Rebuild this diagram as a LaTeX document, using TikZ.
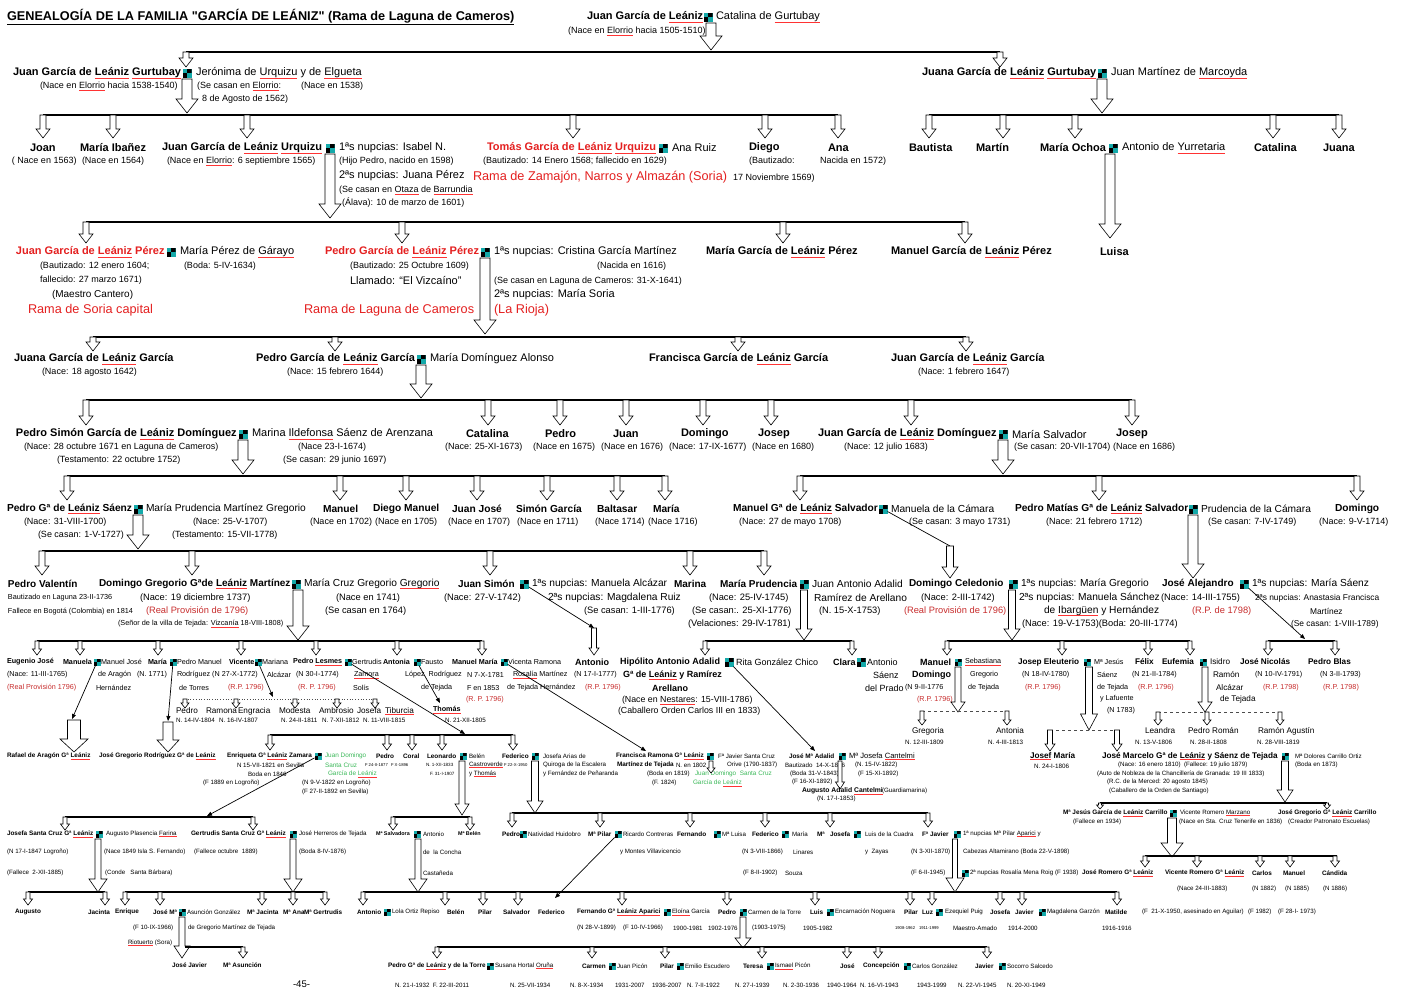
\documentclass[tikz,border=0pt]{standalone}
\usepackage{fontspec}
\setmainfont{Liberation Sans}[Ligatures=TeXOff]
\usetikzlibrary{arrows.meta}
\definecolor{mteal}{RGB}{20,170,170}
\definecolor{redA}{RGB}{228,32,32}
\definecolor{redB}{RGB}{200,45,45}
\definecolor{greenA}{RGB}{60,185,90}
\newcounter{gtn}
\newcommand\gW[1]{\leavevmode\sbox0{#1}\rlap{\color{red!80}\rule[-0.2em]{\wd0}{0.4pt}}\usebox0}
\newcommand\gL{\gW{Leániz}}
\newcommand\gT[4][]{\stepcounter{gtn}\node[gtx,#1] (t\arabic{gtn}) at (#2,#3) {#4};}
\newcommand\gM[3]{\node[gmk] (#1) at (#2,#3) {};}
\newcommand\gMs[3]{\node[gmk,minimum size=7pt] (#1) at (#2,#3) {};}
\newcommand\gHA[6]{\draw[gha] ({#1-#4/2},#2) -- ({#1-#4/2},{#3-#6}) -- ({#1-#5/2},{#3-#6}) -- (#1,#3) -- ({#1+#5/2},{#3-#6}) -- ({#1+#4/2},{#3-#6}) -- ({#1+#4/2},#2) -- cycle;}
\newcommand\gSA[3]{\gHA{#1}{#2}{#3}{6}{14}{9}}
\newcommand\gBA[3]{\gHA{#1}{#2}{#3}{10}{22}{14}}
\newcommand\gSAs[3]{\gHA{#1}{#2}{#3}{4}{9}{6}}
\newcommand\gSAt[3]{\gHA{#1}{#2}{#3}{4}{8}{5}}
\newcommand\gBAk[3]{\gHA{#1}{#2}{#3}{6}{18}{13}}
\newcommand\gBAm[3]{\gHA{#1}{#2}{#3}{7}{16}{11}}
\begin{document}
\begin{tikzpicture}[x=1pt,y=-1pt,
 gtx/.style={anchor=west,inner sep=0pt,outer sep=0pt},
 gmk/.style={inner sep=0pt,outer sep=0pt,minimum size=9pt,fill=mteal,
   path picture={\fill[black] (path picture bounding box.center) rectangle (path picture bounding box.north east);
                 \fill[black] (path picture bounding box.center) rectangle (path picture bounding box.south west);}},
 gha/.style={draw=black,fill=white,line width=0.6pt,line join=miter},
 gbar/.style={draw=black,line width=1.4pt},
 gdsh/.style={draw=black!70,line width=0.6pt,dashed},
 gdot/.style={draw=black!70,line width=0.7pt,dotted},
 gptr/.style={draw=black,line width=0.7pt,-{Triangle[length=5pt,width=4pt]}},
 gln/.style={draw=black,line width=0.7pt},
 ti/.style={font=\fontsize{12.7}{14}\selectfont\bfseries},
 nA/.style={font=\fontsize{11}{13}\selectfont\bfseries},
 sA/.style={font=\fontsize{11}{13}\selectfont},
 iA/.style={font=\fontsize{9}{10.5}\selectfont},
 sB/.style={font=\fontsize{10}{12}\selectfont},
 rL/.style={font=\fontsize{12.7}{14}\selectfont,text=redA},
 nG/.style={font=\fontsize{10.2}{12}\selectfont\bfseries},
 sG/.style={font=\fontsize{10.2}{12}\selectfont},
 nH/.style={font=\fontsize{10}{12}\selectfont\bfseries},
 sH/.style={font=\fontsize{10.2}{12}\selectfont},
 iH/.style={font=\fontsize{9.3}{11}\selectfont},
 iH8/.style={font=\fontsize{8.4}{10}\selectfont},
 rH/.style={font=\fontsize{9.3}{11}\selectfont,text=redB},
 tH/.style={font=\fontsize{7.3}{8.5}\selectfont},
 nI/.style={font=\fontsize{7.2}{8.5}\selectfont\bfseries},
 iI/.style={font=\fontsize{7.2}{8.5}\selectfont},
 rI/.style={font=\fontsize{7.2}{8.5}\selectfont,text=redB},
 nJ/.style={font=\fontsize{9}{10.5}\selectfont\bfseries},
 sJ/.style={font=\fontsize{9}{10.5}\selectfont},
 iJ/.style={font=\fontsize{8.8}{10}\selectfont},
 nK/.style={font=\fontsize{8.2}{9.5}\selectfont\bfseries},
 sK/.style={font=\fontsize{8.2}{9.5}\selectfont},
 dK/.style={font=\fontsize{6.3}{7.5}\selectfont},
 nD/.style={font=\fontsize{6.4}{7.5}\selectfont\bfseries},
 nDs/.style={font=\fontsize{5.4}{6.5}\selectfont\bfseries},
 iD/.style={font=\fontsize{6.2}{7.2}\selectfont},
 iDs/.style={font=\fontsize{4.6}{5.5}\selectfont},
 gD/.style={font=\fontsize{6.4}{7.5}\selectfont,text=greenA},
 tD/.style={font=\fontsize{4.2}{5}\selectfont},
 pg/.style={font=\fontsize{9.6}{11}\selectfont}]
\fill[white] (0,0) rectangle (1407,988);
\useasboundingbox (0,0) rectangle (1407,988);

% ---------- TIER A ----------
\gT[ti]{7}{17}{\underline{GENEALOGÍA DE LA FAMILIA "GARCÍA DE LEÁNIZ" (Rama de Laguna de Cameros)}}
\gT[nA]{587}{17}{Juan García de \gL}
\gM{mA}{708}{17}
\gT[sA]{716}{17}{Catalina de \gW{Gurtubay}}
\gT[iA]{568}{31}{(Nace en \gW{Elorrio} hacia 1505-1510)}
\gBA{711}{23}{50}
\draw[gbar] (186,52) -- (1000,52);
\gSA{186}{52}{67}\gSA{1000}{52}{67}

% ---------- TIER B ----------
\gT[nA]{13}{73}{Juan García de \gL\ \gW{Gurtubay}}
\gM{mB1}{187}{73}
\gT[sA]{196}{73}{Jerónima de \gW{Urquizu} y de \gW{Elgueta}}
\gT[iA]{40}{86}{(Nace en \gW{Elorrio} hacia 1538-1540)}
\gT[iA]{197}{86}{(Se casan en \gW{Elorrio}:}
\gT[iA]{301}{86}{(Nace en 1538)}
\gT[iA]{202}{99}{8 de Agosto de 1562)}
\gBA{187}{79}{113}
\draw[gbar] (43,115) -- (838,115);
\foreach \xx in {43,113,247,573,765,838} {\gSA{\xx}{115}{138}}
\gT[nA]{922}{73}{Juana García de \gL\ \gW{Gurtubay}}
\gM{mB2}{1102}{73}
\gT[sA]{1111}{73}{Juan Martínez de \gW{Marcoyda}}
\gBA{1102}{79}{113}
\draw[gbar] (929,115) -- (1339,115);
\foreach \xx in {929,1003,1075,1273,1339} {\gSA{\xx}{115}{138}}

% ---------- TIER C ----------
\gT[nA]{30}{148}{Joan}
\gT[iA]{12}{161}{( Nace en 1563)}
\gT[nA]{80}{148}{María Ibañez}
\gT[iA]{82}{161}{(Nace en 1564)}
\gT[nA]{162}{148}{Juan García de \gL\ \gW{Urquizu}}
\gM{mC1}{330}{148}
\gT[sA]{339}{148}{1ªs nupcias: Isabel N.}
\gT[iA]{167}{161}{(Nace en \gW{Elorrio}: 6 septiembre 1565)}
\gT[iA]{339}{161}{(Hijo Pedro, nacido en 1598)}
\gT[sA]{339}{176}{2ªs nupcias: Juana Pérez}
\gT[iA]{339}{190}{(Se casan en \gW{Otaza} de \gW{Barrundia}}
\gT[iA]{342}{203}{(Álava): 10 de marzo de 1601)}
\gBA{330}{154}{218}
\gT[nA,text=redA]{487}{148}{Tomás García de \gL\ \gW{Urquizu}}
\gM{mC2}{663}{148}
\gT[sA]{672}{148}{Ana Ruiz}
\gT[iA]{483}{161}{(Bautizado: 14 Enero 1568; fallecido en 1629)}
\gT[rL]{473}{177}{Rama de Zamajón, Narros y Almazán (Soria)}
\gT[iA]{733}{178}{17 Noviembre 1569)}
\gT[nA]{749}{148}{Diego}
\gT[iA]{749}{161}{(Bautizado:}
\gT[nA]{828}{148}{Ana}
\gT[iA]{820}{161}{Nacida en 1572)}
\gT[nA]{909}{148}{Bautista}
\gT[nA]{976}{148}{Martín}
\gT[nA]{1040}{148}{María Ochoa}
\gM{mC3}{1113}{148}
\gT[sA]{1122}{148}{Antonio de \gW{Yurretaria}}
\gT[nA]{1254}{148}{Catalina}
\gT[nA]{1323}{148}{Juana}
\gBA{1110}{154}{238}
\gT[nA]{1100}{252}{Luisa}
\draw[gbar] (86,222) -- (965,222);
\foreach \xx in {86,402,783,965} {\gSA{\xx}{222}{243}}

% ---------- TIER D ----------
\gT[nA,text=redA]{16}{252}{Juan García de \gL\ Pérez}
\gM{mD1}{171}{252}
\gT[sA]{180}{252}{María Pérez de \gW{Gárayo}}
\gT[iA]{40}{266}{(Bautizado: 12 enero 1604;}
\gT[iA]{184}{266}{(Boda: 5-IV-1634)}
\gT[iA]{40}{280}{fallecido: 27 marzo 1671)}
\gT[sB]{52}{295}{(Maestro Cantero)}
\gT[rL]{28}{310}{Rama de Soria capital}
\gT[nA,text=redA]{325}{252}{Pedro García de \gL\ Pérez}
\gM{mD2}{485}{252}
\gT[sA]{494}{252}{1ªs nupcias: Cristina García Martínez}
\gT[iA]{350}{266}{(Bautizado: 25 Octubre 1609)}
\gT[iA]{597}{266}{(Nacida en 1616)}
\gT[sA]{350}{280}{Llamado: “El Vizcaíno”}
\gT[iA]{494}{281}{(Se casan en Laguna de Cameros: 31-X-1641)}
\gT[sA]{494}{295}{2ªs nupcias: María Soria}
\gT[rL]{304}{310}{Rama de Laguna de Cameros}
\gT[rL]{494}{310}{(La Rioja)}
\gBA{485}{258}{334}
\gT[nA]{706}{252}{María García de \gL\ Pérez}
\gT[nA]{891}{252}{Manuel García de \gL\ Pérez}
\draw[gbar] (93,337) -- (966,337);
\foreach \xx in {93,335,738,966} {\gSA{\xx}{337}{351}}

% ---------- TIER E ----------
\gT[nA]{14}{359}{Juana García de \gL\ García}
\gT[iA]{42}{372}{(Nace: 18 agosto 1642)}
\gT[nA]{256}{359}{Pedro García de \gL\ García}
\gM{mE1}{421}{359}
\gT[sA]{430}{359}{María Domínguez Alonso}
\gT[iA]{287}{372}{(Nace: 15 febrero 1644)}
\gT[nA]{649}{359}{Francisca García de \gL\ García}
\gT[nA]{891}{359}{Juan García de \gL\ García}
\gT[iA]{918}{372}{(Nace: 1 febrero 1647)}
\gBA{421}{365}{398}
\draw[gbar] (86,400) -- (1132,400);
\foreach \xx in {86,488,560,626,703,771,911,1132} {\gSA{\xx}{400}{425}}

% ---------- TIER F ----------
\gT[nA]{16}{434}{Pedro Simón García de \gL\ Domínguez}
\gM{mF1}{243}{434}
\gT[sA]{252}{434}{Marina \gW{Ildefonsa} Sáenz de Arenzana}
\gT[iA]{24}{447}{(Nace: 28 octubre 1671 en Laguna de Cameros)}
\gT[iA]{298}{447}{(Nace 23-I-1674)}
\gT[iA]{57}{460}{(Testamento: 22 octubre 1752)}
\gT[iA]{283}{460}{(Se casan: 29 junio 1697)}
\gBA{243}{440}{474}
\gT[nA]{466}{434}{Catalina}
\gT[iA]{445}{447}{(Nace: 25-XI-1673)}
\gT[nA]{545}{434}{Pedro}
\gT[iA]{533}{447}{(Nace en 1675)}
\gT[nA]{613}{434}{Juan}
\gT[iA]{601}{447}{(Nace en 1676)}
\gT[nA]{681}{434}{Domingo}
\gT[iA]{669}{447}{(Nace: 17-IX-1677)}
\gT[nA]{758}{434}{Josep}
\gT[iA]{752}{447}{(Nace en 1680)}
\gT[nA]{818}{434}{Juan García de \gL\ Domínguez}
\gM{mF2}{1003}{434}
\gT[sA]{1012}{434}{María Salvador}
\gT[iA]{844}{447}{(Nace: 12 julio 1683)}
\gT[iA]{1014}{447}{(Se casan: 20-VII-1704)}
\gT[nA]{1116}{434}{Josep}
\gT[iA]{1113}{447}{(Nace en 1686)}
\gBA{1003}{440}{474}
\draw[gbar] (67,476) -- (665,476);
\foreach \xx in {67,340,406,477,547,617,665} {\gSA{\xx}{476}{500}}
\draw[gbar] (800,476) -- (1357,476);
\foreach \xx in {800,1099,1357} {\gSA{\xx}{476}{500}}

% ---------- TIER G ----------
\gT[nG]{7}{509}{Pedro Gª de \gL\ Sáenz}
\gM{mG1}{138}{509}
\gT[sG]{146}{509}{María Prudencia Martínez Gregorio}
\gT[iA]{24}{522}{(Nace: 31-VIII-1700)}
\gT[iA]{193}{522}{(Nace: 25-V-1707)}
\gT[iA]{38}{535}{(Se casan: 1-V-1727)}
\gT[iA]{172}{535}{(Testamento: 15-VII-1778)}
\gBA{138}{515}{549}
\gT[nG]{323}{509}{Manuel}
\gT[iA]{310}{522}{(Nace en 1702)}
\gT[nG]{373}{509}{Diego Manuel}
\gT[iA]{375}{522}{(Nace en 1705)}
\gT[nG]{452}{509}{Juan José}
\gT[iA]{448}{522}{(Nace en 1707)}
\gT[nG]{516}{509}{Simón García}
\gT[iA]{517}{522}{(Nace en 1711)}
\gT[nG]{597}{509}{Baltasar}
\gT[iA]{595}{522}{(Nace 1714)}
\gT[nG]{653}{509}{María}
\gT[iA]{648}{522}{(Nace 1716)}
\gT[nG]{733}{509}{Manuel Gª de \gL\ Salvador}
\gM{mG2}{883}{509}
\gT[sG]{891}{509}{Manuela de la Cámara}
\gT[iA]{739}{522}{(Nace: 27 de mayo 1708)}
\gT[iA]{909}{522}{(Se casan: 3 mayo 1731)}
\coordinate (cG2) at (950,546);
\draw[gln] (mG2) -- (cG2);
\gBAm{950}{546}{578}
\gT[nG]{1015}{509}{Pedro Matías Gª de \gL\ Salvador}
\gM{mG3}{1193}{509}
\gT[sG]{1201}{509}{Prudencia de la Cámara}
\gT[iA]{1046}{522}{(Nace: 21 febrero 1712)}
\gT[iA]{1208}{522}{(Se casan: 7-IV-1749)}
\gBA{1193}{515}{578}
\gT[nG]{1335}{509}{Domingo}
\gT[iA]{1319}{522}{(Nace: 9-V-1714)}
\draw[gbar] (42,551) -- (764,551);
\foreach \xx in {42,192,490,690,764} {\gSA{\xx}{551}{575}}

% ---------- TIER H ----------
\gT[nH]{8}{584}{Pedro Valentín}
\gT[tH]{8}{598}{Bautizado en Laguna 23-II-1736}
\gT[tH]{8}{612}{Fallece en Bogotá (Colombia) en 1814}
\gT[nH]{99}{584}{Domingo Gregorio Gªde \gL\ Martínez}
\gM{mH1}{296}{584}
\gT[sH]{304}{584}{María Cruz Gregorio \gW{Gregorio}}
\gT[iH]{140}{598}{(Nace: 19 diciembre 1737)}
\gT[iH]{336}{598}{(Nace en 1741)}
\gT[rH]{146}{611}{(Real Provisión de 1796)}
\gT[iH]{325}{611}{(Se casan en 1764)}
\gT[tH]{118}{624}{(Señor de la villa de Tejada: \gW{Vizcanía} 18-VIII-1808)}
\gBA{298}{590}{640}
\gT[nH]{458}{584}{Juan Simón}
\gM{mH2}{524}{584}
\gT[sH]{532}{584}{1ªs nupcias: Manuela Alcázar}
\gT[iH]{444}{598}{(Nace: 27-V-1742)}
\gT[sH]{548}{598}{2ªs nupcias: Magdalena Ruiz}
\gT[iH]{584}{611}{(Se casan: 1-III-1776)}
\coordinate (cH2) at (594,628);
\draw[gptr] (mH2) -- (cH2);
\gT[nH]{674}{584}{Marina}
\gT[nH]{720}{584}{María Prudencia}
\gM{mH3}{804}{584}
\gT[sH]{812}{584}{Juan Antonio Adalid}
\gT[iH]{709}{598}{(Nace: 25-IV-1745)}
\gT[sH]{814}{598}{Ramírez de Arellano}
\gT[iH]{692}{611}{(Se casan:. 25-XI-1776)}
\gT[iH]{819}{611}{(N. 15-X-1753)}
\gT[iH]{688}{624}{(Velaciones: 29-IV-1781)}
\gBAm{804}{590}{640}
\gT[nH]{909}{584}{Domingo Celedonio}
\gM{mH4}{1013}{584}
\gT[sH]{1021}{584}{1ªs nupcias: María Gregorio}
\gT[iH]{921}{598}{(Nace: 2-III-1742)}
\gT[sH]{1019}{598}{2ªs nupcias: Manuela Sánchez}
\gT[rH]{904}{611}{(Real Provisión de 1796)}
\gT[sH]{1044}{611}{de \gW{Ibargüen} y Hernández}
\gT[iH]{1022}{624}{(Nace: 19-V-1753)(Boda: 20-III-1774)}
\gBAm{1012}{590}{640}
\gT[nH]{1162}{584}{José Alejandro}
\gM{mH5}{1244}{584}
\gT[sH]{1252}{584}{1ªs nupcias: María Sáenz}
\gT[iH]{1161}{598}{(Nace: 14-III-1755)}
\gT[iH8]{1255}{598}{2ªs nupcias: Anastasia Francisca}
\gT[rH]{1192}{611}{(R.P. de 1798)}
\gT[iH8]{1310}{611}{Martínez}
\gT[iH8]{1291}{624}{(Se casan: 1-VIII-1789)}
\coordinate (cH5) at (1305,639);
\draw[gptr] (mH5) -- (cH5);
\draw[gbar] (37,641) -- (482,641);
\foreach \xx in {37,80,158,241,316,397,482} {\gSAs{\xx}{641}{655}}
\gHA{594}{628}{655}{5}{10}{7}
\draw[gbar] (705,641) -- (852,641);
\foreach \xx in {705,852} {\gSAs{\xx}{641}{655}}
\draw[gbar] (947,641) -- (1190,641);
\foreach \xx in {947,1062,1148,1190} {\gSAs{\xx}{641}{655}}
\draw[gbar] (1268,641) -- (1335,641);
\foreach \xx in {1268,1335} {\gSAs{\xx}{641}{655}}

% ---------- TIER I ----------
\gT[nI]{7}{662}{Eugenio José}
\gT[iI]{7}{675}{(Nace: 11-III-1765)}
\gT[rI]{7}{688}{(Real Provisión 1796)}
\gT[nI]{63}{662}{Manuela}
\gMs{mI1}{97}{662}
\gT[iI]{101}{662}{Manuel José}
\gT[iI]{98}{675}{de Aragón}
\gT[iI]{137}{675}{(N. 1771)}
\gT[iI]{96}{688}{Hernández}
\gT[nI]{148}{662}{María}
\gMs{mI2}{173}{662}
\gT[iI]{177}{662}{Pedro Manuel}
\gT[iI]{177}{675}{Rodríguez (N 27-X-1772)}
\gT[iI]{179}{688}{de Torres}
\gT[nI]{229}{662}{Vicente}
\gMs{mI3}{258}{662}
\gT[iI]{262}{662}{Mariana}
\gT[iI]{267}{675}{Alcázar}
\gT[rI]{228}{688}{(R.P. 1796)}
\gT[nI]{293}{662}{Pedro \gW{Lesmes}}
\gMs{mI4}{348}{662}
\gT[iI]{352}{662}{Gertrudis}
\gT[iI]{296}{675}{(N 30-I-1774)}
\gT[iI]{354}{675}{\gW{Zamora}}
\gT[rI]{298}{688}{(R. P. 1796)}
\gT[iI]{353}{688}{Solís}
\gT[nI]{383}{662}{Antonia}
\gMs{mI5}{417}{662}
\gT[iI]{421}{662}{Fausto}
\gT[iI]{405}{675}{López\ \ Rodríguez}
\gT[iI]{421}{688}{de Tejada}
\gT[nI]{452}{662}{Manuel María}
\gMs{mI6}{504}{662}
\gT[iI]{508}{662}{Vicenta Ramona}
\gT[iI]{467}{675}{N 7-X-1781}
\gT[iI]{513}{675}{\gW{Rosalía} Martínez}
\gT[iI]{467}{688}{F en 1853}
\gT[iI]{507}{688}{de Tejada Hernández}
\gT[rI]{466}{700}{(R. P. 1796)}
\gT[nI]{433}{710}{\gW{Thomás}}
\gT[dK]{445}{720}{N. 21-XII-1805}
% Vicente's children
\draw[gdot] (185,699) -- (375,699);
\foreach \xx in {185,236,295,337,375} {\gSAt{\xx}{699}{708}}
\gT[sK]{176}{711}{Pedro}
\gT[sK]{206}{711}{Ramona}
\gT[sK]{238}{711}{Engracia}
\gT[sK]{279}{711}{Modesta}
\gT[sK]{319}{711}{Ambrosio}
\gT[sK]{357}{711}{Josefa}
\gT[sK]{385}{711}{\gW{Tiburcia}}
\gT[dK]{176}{720}{N. 14-IV-1804}
\gT[dK]{219}{720}{N. 16-IV-1807}
\gT[dK]{281}{720}{N. 24-II-1811}
\gT[dK]{322}{720}{N. 7-XII-1812}
\gT[dK]{363}{720}{N. 11-VIII-1815}
\coordinate (cI3) at (273,697);
\draw[gptr] (mI3) -- (cI3);
\coordinate (cI5) at (440,703);
\draw[gptr] (mI5) -- (cI5);
\coordinate (cI1) at (72,719);
\draw[gptr] (mI1) -- (cI1);
\gHA{74}{720}{752}{13}{28}{13}
\coordinate (cI2) at (168,721);
\draw[gptr] (mI2) -- (cI2);
\gHA{168}{722}{752}{10}{22}{12}
\coordinate (cI4) at (465,734);
\draw[gptr] (mI4) -- (cI4);
\draw[gbar] (270,735) -- (513,735);
\foreach \xx in {270,387,412,442,513} {\gSAs{\xx}{735}{750}}
% Juan Simon's son
\gT[nJ]{575}{662}{Antonio}
\gT[iI]{574}{675}{(N 17-I-1777)}
\gT[rI]{585}{688}{(R.P. 1796)}
% Adalid
\gT[nJ]{620}{662}{Hipólito Antonio Adalid}
\gM{mI7}{729}{662}
\gT[sJ]{736}{662}{Rita González Chico}
\gT[nJ]{623}{675}{Gª de \gL\ y Ramírez}
\gT[nJ]{652}{688}{Arellano}
\gT[iJ]{622}{700}{(Nace en \gW{Nestares}: 15-VIII-1786)}
\gT[iJ]{618}{711}{(Caballero Orden Carlos III en 1833)}
\coordinate (cI6) at (646,751);
\draw[gptr] (mI6) -- (cI6);
\coordinate (cI7) at (815,751);
\draw[gptr] (mI7) -- (cI7);
\gT[nJ]{833}{662}{Clara}
\gM{mI8}{861}{662}
\gT[sJ]{867}{662}{Antonio}
\gT[sJ]{873}{675}{Sáenz}
\gT[sJ]{865}{688}{del Prado}
% Domingo Celedonio's children
\gT[nJ]{920}{662}{Manuel}
\gT[nJ]{912}{675}{Domingo}
\gT[iI]{905}{688}{(N 9-II-1776}
\gT[rI]{917}{700}{(R.P. 1796)}
\gMs{mI9}{958}{662}
\gT[iI]{965}{662}{\gW{Sebastiana}}
\gT[iI]{970}{675}{Gregorio}
\gT[iI]{968}{688}{de Tejada}
\gHA{958}{667}{712}{6}{14}{10}
\draw[gdsh] (922,711) -- (1007,711);
\foreach \xx in {922,1007} {\gSAt{\xx}{711}{725}}
\gT[sK]{912}{731}{Gregoria}
\gT[dK]{905}{742}{N. 12-III-1809}
\gT[sK]{996}{731}{Antonia}
\gT[dK]{988}{742}{N. 4-III-1813}
\gT[nK]{1018}{662}{Josep Eleuterio}
\gMs{mI10}{1087}{662}
\gT[iI]{1094}{662}{Mª Jesús}
\gT[iI]{1022}{675}{(N 18-IV-1780)}
\gT[iI]{1097}{675}{Sáenz}
\gT[rI]{1025}{688}{(R.P. 1796)}
\gT[iI]{1097}{688}{de Tejada}
\gT[iI]{1100}{699}{y Lafuente}
\gT[iI]{1107}{711}{(N 1783)}
\gHA{1089}{667}{730}{7}{17}{16}
\draw[gdsh] (1050,730) -- (1117,730);
\foreach \xx in {1050,1117} {\gHA{\xx}{730}{751}{5}{10}{7}}
\gT[nK]{1030}{756}{\gW{Josef} María}
\gT[dK]{1034}{766}{N. 24-I-1806}
\gT[nK]{1102}{756}{José Marcelo Gª de \gL\ y Sáenz de Tejada}
\gMs{mJ10}{1285}{756}
\gT[iD]{1295}{756}{Mª Dolores Carrillo Ortiz}
\gT[iD]{1295}{765}{(Boda en 1873)}
\gT[iD]{1118}{765}{(Nace: 16 enero 1810)\ \ (Fallece: 19 julio 1879)}
\gT[iD]{1097}{774}{(Auto de Nobleza de la Chancillería de Granada: 19 III 1833)}
\gT[iD]{1107}{782}{(R.C. de la Merced: 20 agosto 1845)}
\gT[iD]{1109}{791}{(Caballero de la Orden de Santiago)}
\gT[nK]{1135}{662}{Félix}
\gT[iI]{1132}{675}{(N 21-II-1784)}
\gT[rI]{1138}{688}{(R.P. 1796)}
\gT[nK]{1162}{662}{Eufemia}
\gMs{mI11}{1203}{662}
\gT[sK]{1210}{662}{Isidro}
\gT[sK]{1213}{675}{Ramón}
\gT[sK]{1216}{688}{Alcázar}
\gT[sK]{1220}{699}{de Tejada}
\gHA{1205}{667}{712}{6}{14}{10}
\draw[gdsh] (1158,712) -- (1280,712);
\foreach \xx in {1158,1207,1280} {\gSAt{\xx}{712}{725}}
\gT[sK]{1145}{731}{Leandra}
\gT[dK]{1135}{742}{N. 13-V-1806}
\gT[sK]{1188}{731}{Pedro Román}
\gT[dK]{1190}{742}{N. 28-II-1808}
\gT[sK]{1258}{731}{Ramón Agustín}
\gT[dK]{1257}{742}{N. 28-VIII-1819}
\gT[nK]{1240}{662}{José Nicolás}
\gT[iI]{1255}{675}{(N 10-IV-1791)}
\gT[rI]{1263}{688}{(R.P. 1798)}
\gT[nK]{1308}{662}{Pedro Blas}
\gT[iI]{1320}{675}{(N 3-II-1793)}
\gT[rI]{1323}{688}{(R.P. 1798)}

% ---------- TIER J ----------
\gT[nD]{7}{756}{Rafael de Aragón Gª \gL}
\gT[nD]{99}{756}{José Gregorio Rodríguez Gª de \gL}
\gT[nD]{227}{756}{Enriqueta Gª \gL\ Zamara}
\gMs{mJ1}{318}{756}
\gT[gD]{325}{756}{Juan Domingo}
\gT[iD]{237}{765}{N 15-VII-1821 en Sevilla}
\gT[gD]{325}{765}{Santa Cruz}
\gT[iD]{248}{774}{Boda en 1846}
\gT[gD]{328}{774}{García de \gL}
\gT[iD]{203}{783}{(F 1889 en Logroño)}
\gT[iD]{302}{783}{(N 9-V-1822 en Logroño)}
\gT[iD]{302}{792}{(F 27-II-1892 en Sevilla)}
\gT[nD]{376}{756}{Pedro}
\gT[tD]{365}{765}{F 24-II-1877}
\gT[nD]{403}{756}{Coral}
\gT[tD]{391}{765}{F X-1896}
\gT[nD]{427}{756}{Leonardo}
\gMs{mJ2}{463}{756}
\gT[iD]{469}{756}{Belén}
\gT[iDs]{426}{765}{N. 1-XII-1833}
\gT[iDs]{430}{774}{F. 31-I-1907}
\gT[iD]{469}{765}{\gW{Castroverde}}
\gT[iD]{469}{774}{y \gW{Thomás}}
\gT[nD]{502}{756}{Federico}
\gMs{mJ3}{535}{756}
\gT[iD]{543}{756}{Josefa Arias de}
\gT[tD]{504}{765}{F 22-X-1950}
\gT[iD]{543}{765}{Quiroga de la Escalera}
\gT[iD]{543}{774}{y Fernández de Peñaranda}
\gT[nD]{616}{756}{Francisca Ramona Gª \gL}
\gMs{mJ4}{710}{756}
\gT[iD]{718}{756}{Fª Javier Santa Cruz}
\gT[nD]{617}{765}{Martínez de Tejada}
\gT[iD]{676}{765}{N. en 1802}
\gT[iD]{727}{765}{Orive (1790-1837)}
\gT[iD]{647}{774}{(Boda en 1819)}
\gT[gD]{695}{774}{Juan Domingo\ \ Santa Cruz}
\gT[iD]{652}{783}{(F. 1824)}
\gT[gD]{693}{783}{García de \gL}
\gSAt{711}{761}{773}
\gT[nD]{789}{756}{José Mª Adalid}
\gMs{mJ5}{842}{756}
\gT[font=\fontsize{7.6}{9}\selectfont]{849}{756}{Mª Josefa \gW{Cantelmi}}
\gT[iD]{785}{765}{Bautizado\ \ 14-X-1816}
\gT[iD]{855}{765}{(N. 15-IV-1822)}
\gT[iD]{790}{774}{(Boda 31-V-1843)}
\gT[iD]{858}{774}{(F 15-XI-1892)}
\gT[iD]{792}{782}{(F 16-XI-1892)}
\gHA{840}{761}{789}{4}{9}{7}
\gT[font=\fontsize{6.8}{8}\selectfont\bfseries]{802}{791}{Augusto Adalid \gW{Cantelmi}}
\gT[iD]{882}{791}{(Guardiamarina)}
\gT[iD]{817}{799}{(N. 17-I-1853)}
\coordinate (cJ1) at (207,816);
\draw[gptr] (mJ1) -- (cJ1);
\draw[gbar] (65,817) -- (253,817);
\foreach \xx in {65,253} {\gSAs{\xx}{817}{830}}
\gHA{462}{761}{815}{6}{14}{11}
\draw[gbar] (393,817) -- (470,817);
\foreach \xx in {393,470} {\gSAs{\xx}{817}{830}}
\gHA{535}{761}{813}{7}{16}{12}
\draw[gbar] (512,813) -- (928,813);
\foreach \xx in {512,600,690,765,830,928} {\gSAs{\xx}{813}{827}}
\gHA{1285}{761}{802}{7}{16}{12}
\draw[gbar] (1100,803) -- (1327,803);
\foreach \xx in {1100,1327} {\gHA{\xx}{803}{809}{3}{7}{4}}

% ---------- TIER K ----------
\gT[nD]{1063}{813}{Mª Jesús García de \gL\ Carrillo}
\gMs{mK9}{1173}{813}
\gT[iD]{1180}{813}{Vicente Romero \gW{Marzano}}
\gT[iD]{1073}{822}{(Fallece en 1934)}
\gT[iD]{1179}{822}{(Nace en Sta. Cruz Tenerife en 1836)}
\gT[nD]{1278}{813}{José Gregorio Gª \gL\ Carrillo}
\gT[iD]{1288}{822}{(Creador Patronato Escuelas)}
\gHA{1172}{818}{857}{9}{22}{14}
\draw[gbar] (1145,856) -- (1337,856);
\foreach \xx in {1145,1197,1260,1290,1335} {\gSAs{\xx}{856}{867}}
\gT[nD]{1082}{873}{José Romero Gª \gL}
\gT[nD]{1165}{873}{Vicente Romero Gª \gL}
\gT[nD]{1252}{873}{Carlos}
\gT[nD]{1283}{873}{Manuel}
\gT[nD]{1322}{873}{Cándida}
\gT[iD]{1177}{889}{(Nace 24-III-1883)}
\gT[iD]{1252}{889}{(N 1882)}
\gT[iD]{1285}{889}{(N 1885)}
\gT[iD]{1323}{889}{(N 1886)}
\gT[iD]{1142}{912}{(F\ \ 21-X-1950, asesinado en Aguilar)}
\gT[iD]{1248}{912}{(F 1982)}
\gT[iD]{1278}{912}{(F 28-I- 1973)}

\gT[nD]{7}{834}{Josefa Santa Cruz Gª \gL}
\gMs{mK1}{99}{834}
\gT[iD]{106}{834}{Augusto Plasencia \gW{Farina}}
\gT[iD]{7}{852}{(N 17-I-1847 Logroño)}
\gT[iD]{104}{852}{(Nace 1849 Isla S. Fernando)}
\gT[iD]{7}{873}{(Fallece\ \ 2-XII-1885)}
\gT[iD]{105}{873}{(Conde\ \ \ Santa Bárbara)}
\gBAk{98}{839}{892}
\draw[gbar] (28,892) -- (105,892);
\foreach \xx in {28,105} {\gSAs{\xx}{892}{905}}
\gT[nD]{15}{912}{Augusto}
\gT[nD]{88}{912}{Jacinta}
\gT[nD]{191}{834}{Gertrudis Santa Cruz Gª \gL}
\gMs{mK2}{293}{834}
\gT[iD]{299}{834}{José Herreros de Tejada}
\gT[iD]{194}{852}{(Fallece octubre\ \ 1889)}
\gT[iD]{299}{852}{(Boda 8-IV-1876)}
\gBAk{293}{839}{892}
\draw[gbar] (125,892) -- (325,892);
\foreach \xx in {125,160,262,325} {\gSAs{\xx}{892}{905}}
\gSAs{293}{892}{905}
\gT[nD]{115}{912}{Enrique}
\gT[nD]{153}{912}{José Mª}
\gMs{mK3}{182}{912}
\gT[iD]{187}{912}{Asunción González}
\gT[nD]{247}{912}{Mª Jacinta}
\gT[nD]{283}{912}{Mª Ana}
\gT[nD]{304}{912}{Mª Gertrudis}
\gT[iD]{133}{928}{(F 10-IX-1966)}
\gT[iD]{188}{928}{de Gregorio Martínez de Tejada}
\gT[iD]{128}{943}{\gW{Riotuerto} (Sora)}
\gHA{182}{917}{958}{6}{16}{12}
\draw[gbar] (185,947) -- (243,947);
\gSAs{243}{947}{958}
\gT[nD]{172}{965}{José Javier}
\gT[nD]{223}{965}{Mª Asunción}
\gT[nDs]{376}{834}{Mª Salvadora}
\gMs{mK4}{417}{834}
\gT[iD]{423}{834}{Antonio}
\gT[nDs]{458}{834}{Mª Belén}
\gT[iD]{423}{852}{de\ \ la Concha}
\gT[iD]{423}{873}{Castañeda}
\gBAk{418}{839}{892}
\draw[gbar] (363,892) -- (1117,892);
\foreach \xx in {363,445,483,518,622,727,815,910,932,1000,1022,1117} {\gSAs{\xx}{892}{905}}
\gT[nD]{357}{912}{Antonio}
\gMs{mK5}{387}{912}
\gT[iD]{392}{912}{Lola Ortiz Repiso}
\gT[nD]{447}{912}{Belén}
\gT[nD]{478}{912}{Pilar}
\gT[nD]{503}{912}{Salvador}
\gT[nD]{538}{912}{Federico}
\gT[nD]{502}{834}{Pedro}
\gMs{mK6}{523}{834}
\gT[iD]{528}{834}{Natividad Huidobro}
\gT[nD]{588}{834}{Mª Pilar}
\gMs{mK7}{618}{834}
\gT[iD]{623}{834}{Ricardo Contreras}
\gT[iD]{620}{852}{y Montes Villavicencio}
\coordinate (cK7) at (555,898);
\draw[gptr] (mK7) -- (cK7);
\gT[nD]{677}{834}{Fernando}
\gMs{mK8}{717}{834}
\gT[iD]{722}{834}{Mª Luisa}
\gT[nD]{752}{834}{Federico}
\gMs{mK10}{785}{834}
\gT[iD]{792}{834}{María}
\gT[iD]{742}{852}{(N 3-VIII-1866)}
\gT[iD]{793}{852}{Linares}
\gT[iD]{743}{873}{(F 8-II-1902)}
\gT[iD]{785}{873}{Souza}
\gT[nD]{817}{834}{Mª}
\gT[nD]{830}{834}{Josefa}
\gMs{mK11}{857}{834}
\gT[iD]{865}{834}{Luis de la Cuadra}
\gT[iD]{865}{852}{y\ \ Zayas}
\gT[nD]{922}{834}{Fª Javier}
\gMs{mK12}{957}{834}
\gT[iD]{963}{834}{1ª nupcias Mª Pilar \gW{Aparici} y}
\gT[iD]{911}{852}{(N 3-XII-1870)}
\gT[iD]{963}{852}{Cabezas Altamirano (Boda 22-V-1898)}
\gT[iD]{911}{873}{(F 6-II-1945)}
\gMs{mK13}{965}{873}
\gT[iD]{970}{873}{2ª nupcias Rosalía Mena Roig (F 1938)}
\gHA{955}{839}{892}{5}{18}{14}

% ---------- TIER L ----------
\gT[nD]{577}{912}{Fernando Gª \gW{Leániz Aparici}}
\gMs{mL1}{667}{912}
\gT[iD]{672}{912}{\gW{Eloína} García}
\gT[nD]{718}{912}{Pedro}
\gMs{mL2}{743}{912}
\gT[iD]{748}{912}{Carmen de la Torre}
\gT[nD]{810}{912}{Luis}
\gMs{mL3}{830}{912}
\gT[iD]{835}{912}{Encarnación Noguera}
\gT[nD]{904}{912}{Pilar}
\gT[nD]{922}{912}{Luz}
\gMs{mL4}{939}{912}
\gT[iD]{945}{912}{Ezequiel Puig}
\gT[nD]{990}{912}{Josefa}
\gT[nD]{1015}{912}{Javier}
\gMs{mL5}{1042}{912}
\gT[iD]{1047}{912}{Magdalena Garzón}
\gT[nD]{1105}{912}{Matilde}
\gT[iD]{577}{928}{(N 28-V-1899)}
\gT[iD]{623}{928}{(F 10-IV-1966)}
\gT[iD]{673}{928}{1900-1981}
\gT[iD]{708}{928}{1902-1976}
\gT[iD]{752}{928}{(1903-1975)}
\gT[iD]{803}{928}{1905-1982}
\gT[tD]{895}{928}{1908-1962}
\gT[tD]{919}{928}{1911-1999}
\gT[iD]{953}{928}{Maestro-Amado}
\gT[iD]{1008}{928}{1914-2000}
\gT[iD]{1102}{928}{1916-1916}
\gHA{743}{917}{948}{6}{16}{10}
\draw[gbar] (437,947) -- (987,947);
\foreach \xx in {437,592,665,762,847,878,987} {\gSAs{\xx}{947}{958}}

% ---------- TIER M ----------
\gT[nD]{388}{966}{Pedro Gª de \gL\ y de la Torre}
\gMs{mM1}{490}{966}
\gT[iD]{495}{966}{Susana Hortal \gW{Oruña}}
\gT[nD]{582}{966}{Carmen}
\gMs{mM2}{612}{966}
\gT[iD]{617}{966}{Juan Picón}
\gT[nD]{660}{966}{Pilar}
\gMs{mM3}{680}{966}
\gT[iD]{685}{966}{Emilio Escudero}
\gT[nD]{743}{966}{Teresa}
\gMs{mM4}{770}{966}
\gT[iD]{775}{966}{\gW{Ismael} Picón}
\gT[nD]{840}{966}{José}
\gT[nD]{863}{966}{Concepción}
\gMs{mM5}{907}{966}
\gT[iD]{912}{966}{Carlos González}
\gT[nD]{975}{966}{Javier}
\gMs{mM6}{1002}{966}
\gT[iD]{1007}{966}{Socorro Salcedo}
\gT[iD]{395}{985}{N. 21-I-1932\ \ F. 22-III-2011}
\gT[iD]{510}{985}{N. 25-VII-1934}
\gT[iD]{570}{985}{N. 8-X-1934}
\gT[iD]{615}{985}{1931-2007}
\gT[iD]{652}{985}{1936-2007}
\gT[iD]{687}{985}{N. 7-II-1922}
\gT[iD]{735}{985}{N. 27-I-1939}
\gT[iD]{783}{985}{N. 2-30-1936}
\gT[iD]{827}{985}{1940-1964}
\gT[iD]{860}{985}{N. 16-VI-1943}
\gT[iD]{917}{985}{1943-1999}
\gT[iD]{958}{985}{N. 22-VI-1945}
\gT[iD]{1007}{985}{N. 20-XI-1949}
\gT[pg]{293}{984}{-45-}
\end{tikzpicture}
\end{document}
